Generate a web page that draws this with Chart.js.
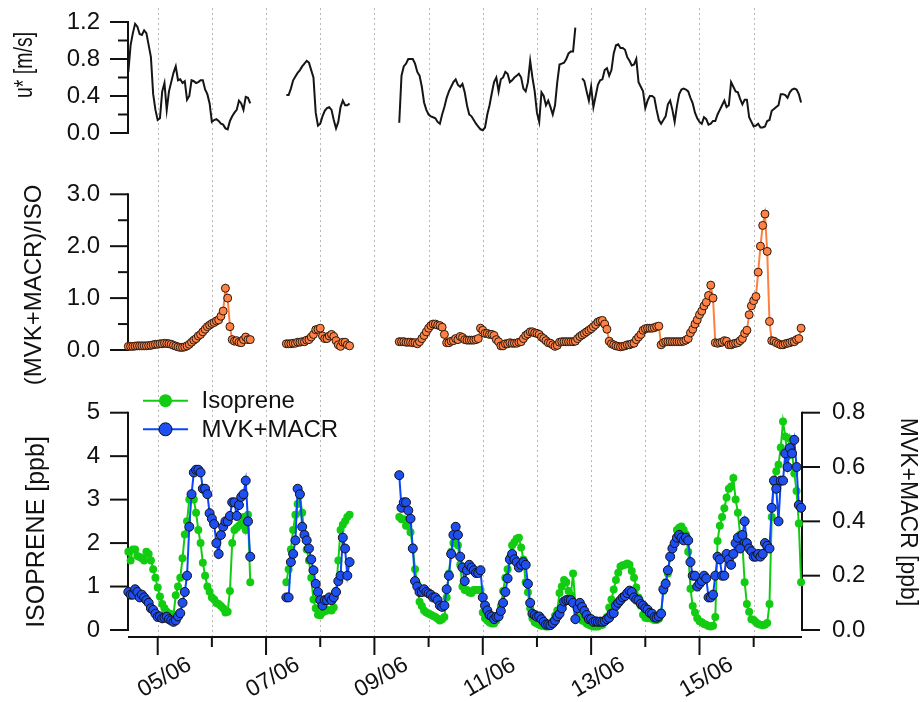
<!DOCTYPE html>
<html>
<head>
<meta charset="utf-8">
<script src="https://cdn.jsdelivr.net/npm/chart.js@4.4.0/dist/chart.umd.min.js"></script>
<style>
  html, body { margin: 0; padding: 0; background: #fff; }
  #wrap { position: relative; width: 920px; height: 702px; }
  #wrap canvas { position: absolute; left: 0; }
</style>
</head>
<body>
<div id="wrap">
  <canvas id="cU" width="920" height="150" style="top:0px"></canvas>
  <canvas id="cR" width="920" height="250" style="top:150px"></canvas>
  <canvas id="cC" width="920" height="342" style="top:360px"></canvas>
</div>
<script>
// time axis: day of June, hourly samples from 04/06 11:00
const START_DAY = 4 + 11 / 24;
const STEP_DAY = 1 / 24;
const X_MIN = 4.452, X_MAX = 16.892;
const dayTicks = [5, 6, 7, 8, 9, 10, 11, 12, 13, 14, 15, 16];
const dateTicks = [5, 7, 9, 11, 13, 15];
const dateLabels = ['05/06', '07/06', '09/06', '11/06', '13/06', '15/06'];

// u* [m/s]
const uStar = [
  0.66,0.95,1.08,1.18,1.15,1.07,1.06,1.11,1.08,0.95,
  0.82,0.42,0.25,0.14,0.16,0.45,0.54,0.25,0.45,0.55,
  0.65,0.72,0.57,0.58,0.54,0.56,0.36,0.4,0.57,0.56,
  0.54,0.55,0.57,0.57,0.47,0.42,0.32,0.12,0.14,0.15,
  0.13,0.1,0.09,0.05,0.04,0.13,0.18,0.22,0.25,0.35,
  0.32,0.25,0.39,0.38,0.32,
  null,null,null,null,null,null,null,null,null,null,null,null,null,null,null,
  0.41,0.41,0.48,0.57,0.61,0.65,0.68,0.72,0.75,0.78,
  0.76,0.68,0.6,0.22,0.08,0.1,0.18,0.24,0.27,0.28,
  0.25,0.14,0.05,0.12,0.28,0.35,0.3,0.3,0.32,
  null,null,null,null,null,null,null,null,null,null,null,null,null,null,null,null,null,null,null,null,null,
  0.11,0.62,0.72,0.75,0.8,0.8,0.8,0.75,0.66,0.62,
  0.5,0.33,0.25,0.2,0.18,0.17,0.16,0.12,0.1,0.2,
  0.28,0.38,0.45,0.5,0.55,0.58,0.52,0.5,0.53,0.44,
  0.3,0.2,0.18,0.14,0.1,0.07,0.04,0.03,0.06,0.2,
  0.3,0.43,0.55,0.6,0.45,0.58,0.6,0.66,0.64,0.55,
  0.57,0.6,0.62,0.64,0.6,0.48,0.45,0.55,0.78,0.6,
  0.45,0.22,0.12,0.44,0.4,0.3,0.35,0.28,0.2,0.3,
  0.55,0.74,0.75,0.76,0.8,0.86,0.88,0.88,1.14,
  null,null,
  0.59,0.56,0.45,0.35,0.5,0.28,0.4,0.52,0.57,0.58,
  0.68,0.7,0.62,0.68,0.86,0.95,0.96,0.92,0.92,0.9,
  0.82,0.78,0.73,0.74,0.8,0.55,0.5,0.45,0.27,0.35,
  0.4,0.4,0.38,0.25,0.14,0.1,0.14,0.18,0.31,0.35,
  0.25,0.12,0.29,0.42,0.47,0.48,0.47,0.45,0.38,0.32,
  0.22,0.16,0.12,0.1,0.17,0.15,0.09,0.1,0.13,0.13,
  0.2,0.25,0.3,0.35,0.28,0.3,0.55,0.5,0.45,0.44,
  0.37,0.31,0.36,0.36,0.17,0.12,0.07,0.08,0.1,0.06,
  0.06,0.07,0.13,0.14,0.24,0.26,0.28,0.3,0.42,0.42,
  0.41,0.38,0.44,0.47,0.48,0.47,0.42,0.33
];

// (MVK+MACR)/ISO
const ratio = [
  0.07,0.07,0.07,0.075,0.08,0.08,0.08,0.08,0.08,0.085,
  0.09,0.1,0.11,0.11,0.12,0.12,0.13,0.125,0.12,0.11,
  0.09,0.075,0.06,0.05,0.05,0.06,0.08,0.11,0.15,0.19,
  0.22,0.27,0.3,0.35,0.4,0.45,0.48,0.51,0.53,0.56,
  0.58,0.65,0.75,1.19,1.0,0.45,0.2,0.17,0.18,0.15,
  0.14,0.2,0.25,0.2,0.2,
  null,null,null,null,null,null,null,null,null,null,null,null,null,null,null,
  0.12,0.12,0.12,0.13,0.13,0.15,0.15,0.16,0.16,0.19,
  0.2,0.25,0.3,0.39,0.4,0.42,0.27,0.22,0.22,0.27,
  0.3,0.26,0.18,0.1,0.07,0.15,0.15,0.1,0.08,
  null,null,null,null,null,null,null,null,null,null,null,null,null,null,null,null,null,null,null,null,null,
  0.16,0.16,0.16,0.15,0.15,0.15,0.14,0.14,0.12,0.16,
  0.22,0.28,0.35,0.42,0.47,0.5,0.5,0.48,0.47,0.44,
  0.3,0.14,0.14,0.17,0.18,0.22,0.2,0.26,0.24,0.2,
  0.19,0.19,0.19,0.19,0.2,0.22,0.42,0.38,0.32,0.32,
  0.3,0.3,0.28,0.2,0.16,0.08,0.08,0.12,0.12,0.14,
  0.13,0.13,0.13,0.15,0.16,0.22,0.28,0.31,0.35,0.35,
  0.33,0.32,0.3,0.25,0.22,0.18,0.14,0.13,0.1,0.07,
  0.09,0.15,0.16,0.16,0.16,0.16,0.16,0.16,0.17,0.22,
  0.26,0.29,0.32,0.35,0.38,0.41,0.45,0.49,0.54,0.56,
  0.57,0.5,0.4,0.17,0.12,0.1,0.08,0.07,0.06,0.07,
  0.08,0.1,0.1,0.12,0.13,0.2,0.25,0.3,0.38,0.41,
  0.42,0.42,0.42,0.43,0.45,0.46,0.1,0.14,0.16,0.16,
  0.16,0.16,0.16,0.16,0.16,0.16,0.17,0.19,0.22,0.33,
  0.4,0.5,0.58,0.68,0.75,0.85,0.92,1.05,1.25,1.0,
  0.14,0.13,0.14,0.15,0.18,0.17,0.1,0.1,0.12,0.13,
  0.14,0.18,0.22,0.32,0.38,0.68,0.85,0.95,1.03,1.5,
  2.0,2.4,2.62,1.9,0.55,0.18,0.17,0.14,0.12,0.1,
  0.1,0.12,0.13,0.14,0.16,0.16,0.2,0.22,0.42
];

// isoprene [ppb] (left axis)
const isoprene = [
  1.8,1.6,1.85,1.85,1.7,1.68,1.65,1.6,1.8,1.75,
  1.6,1.4,1.2,0.98,0.77,0.6,0.5,0.42,0.38,0.36,
  0.35,0.8,1.0,1.2,1.65,2.2,2.5,3.0,3.07,3.0,
  2.7,2.3,2.0,1.55,1.25,1.0,0.88,0.75,0.7,0.62,
  0.6,0.55,0.5,0.4,0.42,0.9,2.0,2.3,2.35,2.4,
  2.45,2.6,2.3,2.65,1.1,
  null,null,null,null,null,null,null,null,null,null,null,null,null,null,null,
  1.1,1.4,1.85,2.3,2.65,2.9,3.1,2.7,2.2,1.85,
  1.6,1.2,0.7,0.5,0.35,0.34,0.4,0.43,0.45,0.46,
  0.45,0.52,0.9,1.6,2.3,2.42,2.5,2.6,2.65,
  null,null,null,null,null,null,null,null,null,null,null,null,null,null,null,null,null,null,null,null,null,
  2.6,2.55,2.55,2.4,2.4,2.25,1.9,1.4,1.05,0.65,
  0.55,0.45,0.4,0.38,0.35,0.32,0.3,0.26,0.22,0.25,
  0.3,0.75,1.3,1.8,2.0,2.15,1.95,1.5,1.0,0.92,
  0.92,0.86,0.85,0.92,0.92,0.92,0.92,0.4,0.27,0.22,
  0.17,0.15,0.15,0.22,0.3,0.55,0.9,1.2,1.4,1.67,
  1.95,2.02,2.1,2.12,1.9,1.62,1.1,0.87,0.5,0.27,
  0.18,0.15,0.12,0.1,0.1,0.08,0.08,0.12,0.2,0.33,
  0.45,0.85,1.0,1.15,1.1,0.9,0.8,1.3,0.6,0.3,
  0.28,0.22,0.2,0.15,0.12,0.1,0.08,0.08,0.08,0.11,
  0.12,0.2,0.3,0.52,0.7,0.93,1.15,1.32,1.46,1.49,
  1.5,1.53,1.5,1.36,1.2,0.98,0.75,0.56,0.35,0.28,
  0.27,0.27,0.26,0.23,0.23,0.26,0.4,0.9,1.1,1.3,
  1.7,1.9,2.0,2.3,2.35,2.38,2.3,2.2,1.8,0.95,
  0.55,0.4,0.27,0.2,0.18,0.14,0.12,0.09,0.08,0.1,
  0.3,2.05,2.4,2.6,2.8,3.05,3.25,3.3,3.5,3.0,
  2.7,2.2,2.0,1.1,0.6,0.42,0.25,0.23,0.18,0.14,
  0.12,0.11,0.12,0.16,0.6,2.6,3.4,3.65,3.8,4.2,
  4.8,4.45,4.0,4.4,4.1,3.6,3.2,2.45,1.1
];

// MVK+MACR [ppb] (right axis)
const mvkMacr = [
  0.14,0.13,0.13,0.15,0.14,0.12,0.13,0.12,0.11,0.1,
  0.08,0.074,0.06,0.048,0.05,0.043,0.045,0.049,0.04,0.035,
  0.03,0.035,0.05,0.062,0.1,0.14,0.2,0.38,0.5,0.58,
  0.59,0.59,0.58,0.52,0.52,0.5,0.43,0.41,0.39,0.32,
  0.28,0.35,0.38,0.4,0.4,0.42,0.47,0.47,0.42,0.46,
  0.49,0.5,0.55,0.4,0.27,
  null,null,null,null,null,null,null,null,null,null,null,null,null,null,null,
  0.12,0.12,0.25,0.28,0.33,0.52,0.5,0.38,0.35,0.33,
  0.3,0.26,0.22,0.17,0.14,0.11,0.09,0.11,0.11,0.12,
  0.11,0.12,0.14,0.18,0.2,0.34,0.3,0.2,0.25,
  null,null,null,null,null,null,null,null,null,null,null,null,null,null,null,null,null,null,null,null,null,
  0.57,0.45,0.47,0.47,0.44,0.41,0.3,0.18,0.16,0.14,
  0.14,0.15,0.14,0.135,0.13,0.12,0.12,0.11,0.09,0.085,
  0.09,0.15,0.2,0.28,0.35,0.38,0.35,0.27,0.23,0.18,
  0.22,0.24,0.23,0.22,0.21,0.21,0.22,0.12,0.09,0.072,
  0.055,0.05,0.04,0.048,0.05,0.07,0.1,0.14,0.19,0.26,
  0.28,0.26,0.25,0.23,0.24,0.25,0.24,0.17,0.1,0.06,
  0.055,0.049,0.05,0.04,0.03,0.02,0.02,0.018,0.025,0.035,
  0.05,0.06,0.08,0.105,0.11,0.11,0.11,0.1,0.04,0.08,
  0.1,0.085,0.07,0.055,0.04,0.04,0.03,0.032,0.03,0.031,
  0.03,0.033,0.04,0.045,0.06,0.062,0.09,0.1,0.11,0.12,
  0.125,0.136,0.145,0.14,0.12,0.112,0.11,0.096,0.09,0.08,
  0.075,0.063,0.06,0.047,0.045,0.05,0.06,0.15,0.17,0.22,
  0.27,0.3,0.32,0.34,0.35,0.34,0.33,0.34,0.33,0.25,
  0.2,0.2,0.16,0.17,0.18,0.2,0.19,0.12,0.12,0.13,
  0.2,0.27,0.26,0.2,0.2,0.28,0.26,0.24,0.28,0.32,
  0.34,0.3,0.35,0.4,0.32,0.3,0.29,0.27,0.27,0.28,
  0.27,0.28,0.32,0.31,0.3,0.45,0.55,0.52,0.4,0.55,
  0.55,0.65,0.6,0.67,0.65,0.7,0.6,0.46,0.45
];

const times = uStar.map((_, i) => START_DAY + i * STEP_DAY);
const pts = arr => arr.map((v, i) => ({ x: times[i], y: v }));

const FONT = '"Liberation Sans", Arial, sans-serif';
const INK = '#111';
const GREEN = '#12cc12';
const BLUE = '#0a46ff';
const ORANGE = '#ff7f40';

// grid, axis lines and tick marks are drawn by hand (Igor-like frame)
function framePlugin(cfg) {
  return {
    id: 'frame',
    beforeDatasetsDraw(chart) {
      const ctx = chart.ctx, area = chart.chartArea, xs = chart.scales.x;
      const gridBottom = cfg.xAxis ? area.bottom : cfg.gridBottom;
      ctx.save();
      ctx.strokeStyle = '#b8b8b8';
      ctx.lineWidth = 1;
      ctx.setLineDash([2, 3]);
      dayTicks.forEach(d => {
        const x = Math.round(xs.getPixelForValue(d)) + 0.5;
        ctx.beginPath(); ctx.moveTo(x, cfg.gridTop); ctx.lineTo(x, gridBottom); ctx.stroke();
      });
      ctx.setLineDash([]);
      ctx.strokeStyle = INK;
      ctx.lineWidth = 2;
      cfg.axes.forEach(a => {
        const s = chart.scales[a.id];
        const left = s.position === 'left';
        const x0 = left ? area.left : area.right;
        const dir = left ? -1 : 1;
        ctx.beginPath();
        ctx.moveTo(x0, s.getPixelForValue(a.major[a.major.length - 1]) - 1);
        ctx.lineTo(x0, s.getPixelForValue(0) + 1);
        ctx.stroke();
        a.major.forEach(v => {
          const y = s.getPixelForValue(v);
          ctx.beginPath(); ctx.moveTo(x0, y); ctx.lineTo(x0 + dir * 18, y); ctx.stroke();
        });
        (a.minor || []).forEach(v => {
          const y = s.getPixelForValue(v);
          ctx.beginPath(); ctx.moveTo(x0, y); ctx.lineTo(x0 + dir * 10, y); ctx.stroke();
        });
      });
      if (cfg.xAxis) {
        const y0 = area.bottom;
        ctx.beginPath(); ctx.moveTo(area.left, y0); ctx.lineTo(area.right, y0); ctx.stroke();
        dayTicks.forEach(d => {
          const x = xs.getPixelForValue(d);
          const len = dateTicks.includes(d) ? 18 : 10;
          ctx.beginPath(); ctx.moveTo(x, y0); ctx.lineTo(x, y0 + len); ctx.stroke();
        });
      }
      ctx.restore();
    },
    afterDraw(chart) {
      const ctx = chart.ctx, area = chart.chartArea, xs = chart.scales.x;
      ctx.save();
      ctx.fillStyle = INK;
      ctx.textBaseline = 'middle';
      ctx.textAlign = 'center';
      cfg.titles.forEach(t => {
        ctx.save();
        ctx.font = t.size + 'px ' + FONT;
        ctx.translate(t.x, t.y);
        ctx.scale(t.sx || 1, 1);
        ctx.rotate(t.rot * Math.PI / 180);
        ctx.fillText(t.text, 0, 0);
        ctx.restore();
      });
      if (cfg.xAxis) {
        ctx.font = '23px ' + FONT;
        dateTicks.forEach((d, i) => {
          ctx.save();
          ctx.translate(xs.getPixelForValue(d) + 7, area.bottom + 40.5);
          ctx.rotate(-Math.PI / 6);
          ctx.fillText(dateLabels[i], 0, 0);
          ctx.restore();
        });
      }
      if (cfg.legend) {
        const sets = chart.data.datasets;
        ctx.font = '24px ' + FONT;
        ctx.textAlign = 'left';
        cfg.legend.forEach((row, i) => {
          const ds = sets[row.index];
          const y = cfg.legendY + i * 28.6;
          ctx.strokeStyle = ds.borderColor;
          ctx.lineWidth = 2;
          ctx.beginPath(); ctx.moveTo(143, y); ctx.lineTo(188, y); ctx.stroke();
          ctx.beginPath(); ctx.arc(165.5, y, 6.5, 0, Math.PI * 2);
          ctx.fillStyle = ds.pointBackgroundColor;
          ctx.fill();
          if (ds.pointBorderWidth) {
            ctx.strokeStyle = ds.pointBorderColor; ctx.lineWidth = 1; ctx.stroke();
          }
          ctx.fillStyle = INK;
          ctx.fillText(ds.label, 201.5, y + 1);
        });
      }
      ctx.restore();
    }
  };
}

// fixed-width y axis; label half-heights must not shrink the plot area
function fixAxis(width) {
  return s => { s.width = width; s.paddingTop = 0; s.paddingBottom = 0; };
}

function yScale(min, max, major, fmt, extra) {
  return Object.assign({
    min: min, max: max,
    afterBuildTicks: s => { s.ticks = major.map(v => ({ value: v })); },
    afterFit: fixAxis(128),
    grid: { display: false, drawTicks: false },
    border: { display: false },
    ticks: { color: INK, padding: 28, font: { family: FONT, size: 24 }, callback: fmt }
  }, extra || {});
}

const xScale = () => ({ type: 'linear', min: X_MIN, max: X_MAX, display: false });
const baseOpts = () => ({
  responsive: false,
  animation: false,
  events: [],
  plugins: { legend: { display: false }, tooltip: { enabled: false } }
});

// panel 1: u*
new Chart(document.getElementById('cU'), {
  type: 'line',
  data: {
    datasets: [{
      label: 'u*', data: pts(uStar), borderColor: '#151515', borderWidth: 2,
      pointRadius: 0, tension: 0
    }]
  },
  options: Object.assign(baseOpts(), {
    layout: { padding: { left: 0, right: 118, top: 22, bottom: 17 } },
    scales: { x: xScale(), y: yScale(0, 1.2, [0, 0.4, 0.8, 1.2], v => v.toFixed(1)) }
  }),
  plugins: [framePlugin({
    gridTop: 8, gridBottom: 150,
    axes: [{ id: 'y', major: [0, 0.4, 0.8, 1.2], minor: [0.2, 0.6, 1.0] }],
    titles: [{ text: 'u* [m/s]', x: 25, y: 65, rot: -90, size: 19.5, sx: 1.3 }]
  })]
});

// panel 2: ratio
new Chart(document.getElementById('cR'), {
  type: 'line',
  data: {
    datasets: [{
      label: '(MVK+MACR)/ISO', data: pts(ratio), borderColor: ORANGE, borderWidth: 2,
      pointRadius: 4, pointBackgroundColor: '#ff8244', pointBorderColor: '#2b1a10',
      pointBorderWidth: 1, tension: 0, clip: false
    }]
  },
  options: Object.assign(baseOpts(), {
    layout: { padding: { left: 0, right: 118, top: 44.3, bottom: 50 } },
    scales: { x: xScale(), y: yScale(0, 3, [0, 1, 2, 3], v => v.toFixed(1)) }
  }),
  plugins: [framePlugin({
    gridTop: 0, gridBottom: 210,
    axes: [{ id: 'y', major: [0, 1, 2, 3], minor: [0.5, 1.5, 2.5] }],
    titles: [{ text: '(MVK+MACR)/ISO', x: 34, y: 135, rot: -90, size: 24 }]
  })]
});

// panel 3: isoprene and MVK+MACR
new Chart(document.getElementById('cC'), {
  type: 'line',
  data: {
    datasets: [
      {
        label: 'Isoprene', data: pts(isoprene), yAxisID: 'y', order: 1,
        borderColor: GREEN, borderWidth: 2, tension: 0, clip: false,
        pointRadius: 4, pointBackgroundColor: GREEN, pointBorderColor: GREEN, pointBorderWidth: 0
      },
      {
        label: 'MVK+MACR', data: pts(mvkMacr), yAxisID: 'y2', order: 0,
        borderColor: BLUE, borderWidth: 2, tension: 0, clip: false,
        pointRadius: 4.5, pointBackgroundColor: '#1e4ff0', pointBorderColor: '#101018', pointBorderWidth: 1
      }
    ]
  },
  options: Object.assign(baseOpts(), {
    layout: { padding: { left: 0, right: 0, top: 52.7, bottom: 65 } },
    scales: {
      x: xScale(),
      y: yScale(-0.1611, 5, [0, 1, 2, 3, 4, 5], v => String(v)),
      y2: yScale(-0.02577, 0.8, [0, 0.2, 0.4, 0.6, 0.8], v => v.toFixed(1), {
        position: 'right',
        afterFit: fixAxis(118),
        ticks: { color: INK, padding: 30, font: { family: FONT, size: 24 }, callback: v => v.toFixed(1) }
      })
    }
  }),
  plugins: [framePlugin({
    gridTop: 0,
    xAxis: true,
    axes: [
      { id: 'y', major: [0, 1, 2, 3, 4, 5] },
      { id: 'y2', major: [0, 0.2, 0.4, 0.6, 0.8] }
    ],
    titles: [
      { text: 'ISOPRENE [ppb]', x: 37.5, y: 172, rot: -90, size: 25 },
      { text: 'MVK+MACR [ppb]', x: 907, y: 152, rot: 90, size: 23 }
    ],
    legendY: 40.7,
    legend: [{ index: 0 }, { index: 1 }]
  })]
});
</script>
</body>
</html>
